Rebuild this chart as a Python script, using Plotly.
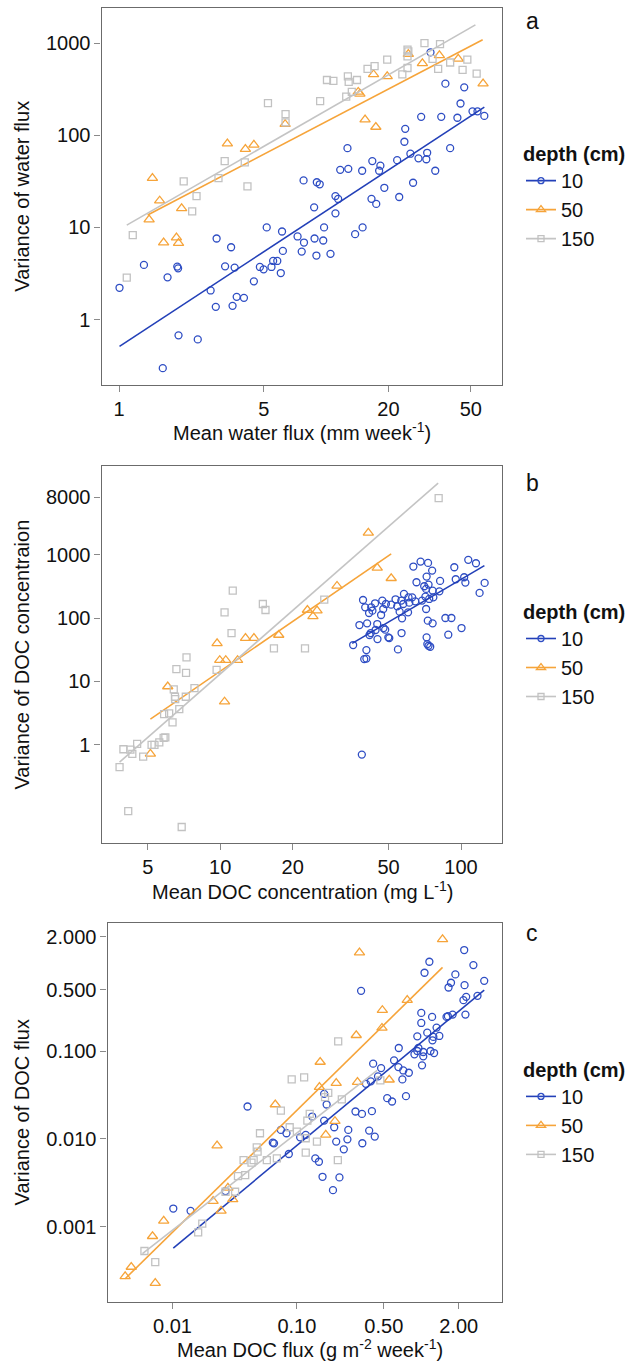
import numpy as np
import plotly.graph_objects as go

# ---------------- data (log10 units) ----------------
# Panel a: mean water flux vs variance of water flux
a10_lx = [1.504,1.576,1.667,1.649,1.707,1.731,1.764,1.459,1.556,1.634,1.382,1.378,1.103,1.599,1.407,1.488,1.484,1.446,
          1.223,1.262,1.256,1.343,1.068,1.107,1.174,1.527,0.891,0.955,0.969,1.281,1.42,1.045,1.219,1.353,
          1.058,1.242,0.942,1.045,0.713,0.787,1.14,1.176,0.99,0.862,0.944,0.986,0.893,0.791,0.882,0.953,1.021,
          0.471,0.541,0.12,0.281,0.285,0.234,0.512,0.558,0.68,0.698,0.736,0.744,0.764,0.781,0.651,0.442,0.568,
          0.603,0.467,0.548,0.002,0.287,0.38,0.211]
a10_ly = [2.90,2.56,2.52,2.345,2.26,2.26,2.21,2.20,2.20,2.19,2.07,1.93,1.86,1.86,1.80,1.81,1.74,1.75,
          1.72,1.67,1.615,1.73,1.625,1.636,1.615,1.615,1.51,1.49,1.468,1.43,1.485,1.34,1.31,1.33,
          1.309,1.255,1.218,1.153,1.0,0.956,0.927,1.0,1.0,0.902,0.88,0.858,0.836,0.745,0.738,0.695,0.713,
          0.88,0.785,0.593,0.575,0.556,0.458,0.578,0.564,0.571,0.545,0.571,0.636,0.636,0.505,0.415,0.316,0.247,
          0.236,0.138,0.149,0.345,-0.171,-0.215,-0.527]
a50_lx = [1.397,1.465,1.547,1.638,1.758,1.229,1.295,1.155,1.163,1.188,1.24,0.802,0.523,0.61,0.651,0.161,0.196,
          0.145,0.302,0.215,0.277,0.287]
a50_ly = [2.88,2.78,2.867,2.83,2.56,2.66,2.64,2.47,2.45,2.17,2.09,2.12,1.91,1.85,1.896,1.536,1.29,
          1.084,1.207,0.836,0.89,0.83]
a150_lx = [1.475,1.55,1.393,1.397,1.393,1.514,1.599,1.682,1.541,1.659,1.727,1.295,1.234,1.393,1.368,1.2,1.105,
           1.109,1.149,1.097,1.124,1.004,1.035,0.971,0.719,0.804,0.804,0.51,0.607,0.62,0.48,0.312,0.374,0.353,
           0.066,0.037]
a150_ly = [3.0,2.99,2.93,2.91,2.856,2.83,2.79,2.82,2.72,2.71,2.67,2.82,2.75,2.73,2.66,2.72,2.64,
           2.58,2.60,2.42,2.47,2.60,2.59,2.37,2.35,2.23,2.14,1.72,1.705,1.446,1.536,1.5,1.34,1.175,
           0.916,0.455]
a_fit_lx = {"10": [0.002, 1.764], "50": [0.138, 1.756], "150": [0.037, 1.721]}
a_fit_ly = {"10": [-0.291, 2.306], "50": [1.135, 3.036], "150": [1.025, 3.198]}

# Panel b: mean DOC concentration vs variance
b10_lx = [2.03,2.062,2.098,2.077,2.013,2.018,1.972,1.978,1.913,1.832,1.802,1.863,1.88,1.815,1.847,1.857,1.865,1.882,
          1.855,1.852,1.868,1.838,1.885,1.91,1.81,1.797,1.763,1.782,1.785,1.752,1.76,1.728,1.735,1.71,1.745,1.78,
          1.855,1.755,1.688,1.677,1.673,1.627,1.643,1.632,1.593,1.602,1.652,1.618,1.668,1.685,1.698,1.578,1.61,
          1.625,1.62,1.645,1.653,1.678,1.702,1.753,1.738,1.552,1.607,1.857,1.86,1.882,1.862,1.935,1.96,1.947,
          2.002,1.865,1.872,1.598,1.607,1.588]
b10_ly = [2.916,2.863,2.553,2.395,2.642,2.558,2.8,2.611,2.584,2.889,2.811,2.868,2.747,2.563,2.5,2.653,2.526,2.432,
          2.458,2.337,2.3,2.274,2.326,2.42,2.263,2.326,2.379,2.326,2.242,2.274,2.221,2.295,2.184,2.21,2.1,2.089,
          2.142,1.995,2.221,2.142,2.274,2.168,2.232,2.116,2.284,2.168,1.905,2.079,2.047,1.816,1.695,1.889,1.916,
          1.763,1.732,1.811,1.668,1.842,1.684,1.763,1.505,1.574,1.495,1.695,1.589,1.916,1.958,2.0,2.0,1.737,
          1.842,1.563,1.547,1.353,1.361,-0.152]
b50_lx = [1.615,1.652,1.71,1.485,1.362,1.402,1.385,1.243,0.987,1.105,1.14,0.998,1.023,1.072,1.018,0.782,0.71]
b50_ly = [3.342,2.789,2.626,2.505,2.126,2.116,2.026,1.732,1.6,1.684,1.684,1.335,1.335,1.335,0.681,0.921,-0.141]
b150_lx = [1.907,1.052,1.018,1.177,1.188,1.047,1.432,1.223,1.352,0.86,0.818,0.858,0.807,0.812,0.813,0.857,0.893,
           0.985,0.83,0.788,0.767,0.802,0.772,0.765,0.747,0.715,0.727,0.655,0.635,0.598,0.627,0.68,0.582,0.618,0.84]
b150_ly = [3.889,2.432,2.089,2.221,2.126,1.763,2.289,1.521,1.521,1.379,1.194,1.136,0.874,0.759,0.723,0.759,0.895,
           1.183,0.565,0.497,0.487,0.356,0.12,0.11,0.042,0.0,0.0,0.016,-0.141,-0.068,-0.073,-0.183,-0.351,-1.042,-1.293]
b_fit_lx = {"10": [1.548, 2.097], "50": [0.71, 1.71], "150": [0.582, 1.905]}
b_fit_ly = {"10": [1.6, 2.826], "50": [0.408, 3.01], "150": [-0.272, 4.126]}

# Panel c: mean DOC flux vs variance
c10_lx = [0.345,0.065,0.419,0.026,0.274,0.239,0.219,0.348,0.506,-0.484,0.339,0.361,0.452,0.355,0.252,0.0,0.203,0.214,
          0.087,0.0,0.123,0.048,0.145,0.097,-0.032,0.09,-0.181,-0.023,-0.032,0.016,0.016,0.074,0.103,-0.055,0.006,
          -0.219,-0.184,-0.145,-0.1,-0.152,-0.387,-0.323,-0.348,-0.406,-0.445,-0.123,-0.274,-0.235,-0.781,-0.761,
          -0.529,-0.477,-0.397,-1.397,-0.877,-0.781,-1.129,-0.587,-0.419,-0.7,-0.374,-0.684,-0.594,-0.623,-0.474,
          -1.084,-1.194,-1.184,-0.974,-0.929,-1.065,-0.852,-0.823,-0.794,-0.658,-0.71,-1.574,-1.855,-1.994]
c10_ly = [0.148,0.015,-0.023,-0.11,-0.129,-0.224,-0.278,-0.251,-0.202,-0.316,-0.422,-0.384,-0.373,-0.586,-0.586,-0.567,
          -0.612,-0.605,-0.612,-0.681,-0.734,-0.791,-0.829,-0.84,-0.833,-0.878,-0.966,-0.966,-1.0,-1.011,-1.061,-1.0,
          -1.023,-1.038,-1.163,-1.106,-1.183,-1.221,-1.247,-1.323,-1.144,-1.194,-1.289,-1.346,-1.373,-1.513,-1.536,
          -1.574,-1.487,-1.608,-1.688,-1.715,-1.684,-1.631,-1.745,-1.791,-1.897,-1.897,-1.905,-1.867,-1.973,-2.03,
          -2.004,-2.118,-2.049,-1.935,-2.042,-2.05,-1.981,-1.954,-2.171,-2.221,-2.259,-2.43,-2.437,-2.582,-2.593,
          -2.817,-2.791]
c50_lx = [0.171,-0.497,-0.113,-0.313,-0.316,-0.523,-0.813,-0.684,-0.513,-0.258,-0.819,-1.174,-0.694,-0.768,-1.642,
          -1.674,-1.516,-1.61,-1.555,-2.071,-2.161,-2.332,-2.381,-2.139]
c50_ly = [0.27,0.118,-0.422,-0.536,-0.738,-0.821,-1.125,-1.365,-1.354,-1.327,-1.411,-1.608,-1.798,-1.954,-2.076,
          -2.707,-2.688,-2.817,-2.555,-2.932,-3.106,-3.456,-3.563,-3.639]
c150_lx = [-0.668,-1.042,-0.942,-0.748,-0.774,-0.639,-0.329,-0.897,-0.916,-1.129,-1.297,-1.058,-1.0,-1.323,-1.316,
           -1.348,-1.365,-1.429,-1.242,-1.161,-1.416,-1.474,-1.497,-1.574,-0.929,-0.839,-0.929,-0.671,-1.761,-1.794,
           -2.226,-2.139]
c150_ly = [-0.89,-1.323,-1.3,-1.475,-1.525,-1.551,-1.335,-1.715,-1.791,-1.677,-1.935,-1.867,-1.916,-2.095,-2.144,
           -2.24,-2.27,-2.24,-2.24,-2.22,-2.411,-2.422,-2.6,-2.6,-2.156,-2.03,-1.992,-2.24,-2.962,-3.061,
           -3.274,-3.4]
c_fit_lx = {"10": [-1.994, 0.506], "50": [-2.381, 0.171], "150": [-2.242, -0.355]}
c_fit_ly = {"10": [-3.24, -0.308], "50": [-3.589, -0.049], "150": [-3.304, -1.22]}

depths = ["10", "50", "150"]

a_xticks = [1, 5, 20, 50]
a_xtext = ["1", "5", "20", "50"]
a_yticks = [1, 10, 100, 1000]
a_ytext = ["1", "10", "100", "1000"]
b_xticks = [5, 10, 20, 50, 100]
b_xtext = ["5", "10", "20", "50", "100"]
b_yticks = [1, 10, 100, 1000, 8000]
b_ytext = ["1", "10", "100", "1000", "8000"]
c_xticks = [0.01, 0.1, 0.5, 2.0]
c_xtext = ["0.01", "0.10", "0.50", "2.00"]
c_yticks = [0.001, 0.01, 0.1, 0.5, 2.0]
c_ytext = ["0.001", "0.010", "0.100", "0.500", "2.000"]

# ---------------- styling ----------------
W, H = 629, 1364
FONT = "Liberation Sans, Arial, sans-serif"
colors = {"10": "#2F4EC4", "50": "#F6A43A", "150": "#C2C2C2"}
line_colors = {"10": "#2340B8", "50": "#F6A43A", "150": "#C4C4C4"}
symbols = {"10": "circle-open", "50": "triangle-up-open", "150": "square-open"}
sizes = {"10": 7, "50": 9, "150": 7}

def px_x(p):
    return p / W

def px_y(p):
    return 1 - p / H

panels = [
    dict(key="a", xa="x", ya="y", leg="legend",
         pts={"10": (a10_lx, a10_ly), "50": (a50_lx, a50_ly), "150": (a150_lx, a150_ly)},
         fx=a_fit_lx, fy=a_fit_ly,
         xdom=[px_x(101.5), px_x(501.5)], ydom=[px_y(385), px_y(8.3)],
         xr=[-0.085, 1.847], yr=[-0.71, 3.378],
         xt=(a_xticks, a_xtext), yt=(a_yticks, a_ytext),
         xtitle="Mean water flux (mm week<sup>-1</sup>)", ytitle="Variance of water flux",
         xtitle_x=302, xtitle_y=432, letter_y=21),
    dict(key="b", xa="x2", ya="y2", leg="legend2",
         pts={"10": (b10_lx, b10_ly), "50": (b50_lx, b50_ly), "150": (b150_lx, b150_ly)},
         fx=b_fit_lx, fy=b_fit_ly,
         xdom=[px_x(101.5), px_x(501.5)], ydom=[px_y(843), px_y(466)],
         xr=[0.507, 2.168], yr=[-1.545, 4.395],
         xt=(b_xticks, b_xtext), yt=(b_yticks, b_ytext),
         xtitle="Mean DOC concentration (mg L<sup>-1</sup>)", ytitle="Variance of DOC concentraion",
         xtitle_x=302, xtitle_y=890, letter_y=483),
    dict(key="c", xa="x3", ya="y3", leg="legend3",
         pts={"10": (c10_lx, c10_ly), "50": (c50_lx, c50_ly), "150": (c150_lx, c150_ly)},
         fx=c_fit_lx, fy=c_fit_ly,
         xdom=[px_x(107.5), px_x(501.5)], ydom=[px_y(1301.5), px_y(923.3)],
         xr=[-2.523, 0.645], yr=[-3.848, 0.452],
         xt=(c_xticks, c_xtext), yt=(c_yticks, c_ytext),
         xtitle="Mean DOC flux (g m<sup>-2</sup> week<sup>-1</sup>)", ytitle="Variance of DOC flux",
         xtitle_x=310, xtitle_y=1348, letter_y=933),
]

fig = go.Figure()
annotations = []
layout = dict(width=W, height=H, autosize=False, margin=dict(l=0, r=0, t=0, b=0),
              paper_bgcolor="white", plot_bgcolor="white",
              font=dict(family=FONT, size=20, color="#111111"), showlegend=True)

for i, p in enumerate(panels):
    for d in depths:
        lx, ly = p["pts"][d]
        fig.add_trace(go.Scatter(
            x=np.power(10.0, lx), y=np.power(10.0, ly), mode="markers",
            xaxis=p["xa"], yaxis=p["ya"], showlegend=False, hoverinfo="skip",
            marker=dict(symbol=symbols[d], size=sizes[d], color=colors[d], line=dict(width=1.3, color=colors[d]))))
        fig.add_trace(go.Scatter(
            x=np.power(10.0, p["fx"][d]), y=np.power(10.0, p["fy"][d]), mode="lines",
            xaxis=p["xa"], yaxis=p["ya"], showlegend=False, hoverinfo="skip",
            line=dict(color=line_colors[d], width=1.6)))
    for d in depths:
        fig.add_trace(go.Scatter(
            x=[None], y=[None], mode="lines+markers", name=d, legend=p["leg"],
            xaxis=p["xa"], yaxis=p["ya"],
            line=dict(color=line_colors[d], width=1.6),
            marker=dict(symbol=symbols[d], size=sizes[d] - 1, color=colors[d], line=dict(width=1.3, color=colors[d]))))
    sfx = "" if i == 0 else str(i + 1)
    axis_common = dict(type="log", showgrid=False, zeroline=False, showline=True, linecolor="#6b6b6b",
                       linewidth=1.2, mirror=True, ticks="outside", ticklen=6, tickwidth=1, tickcolor="#8a8a8a",
                       tickfont=dict(family=FONT, size=20, color="#111111"))
    layout["xaxis" + sfx] = dict(axis_common, domain=p["xdom"], range=p["xr"], anchor="y" + sfx,
                                 tickmode="array", tickvals=p["xt"][0], ticktext=p["xt"][1])
    layout["yaxis" + sfx] = dict(axis_common, domain=p["ydom"], range=p["yr"], anchor="x" + sfx,
                                 tickmode="array", tickvals=p["yt"][0], ticktext=p["yt"][1])
    layout[p["leg"]] = dict(x=px_x(521), xanchor="left", y=sum(p["ydom"]) / 2, yanchor="middle",
                            bgcolor="rgba(0,0,0,0)", font=dict(family=FONT, size=20, color="#111111"),
                            title=dict(text="<b>depth (cm)</b>", font=dict(family=FONT, size=20, color="#111111")),
                            itemwidth=30, tracegroupgap=0)
    annotations.append(dict(text=p["xtitle"], x=px_x(p["xtitle_x"]), y=px_y(p["xtitle_y"]), xref="paper", yref="paper",
                            xanchor="center", yanchor="middle", showarrow=False,
                            font=dict(family=FONT, size=20, color="#111111")))
    ymid = (1 - sum(p["ydom"]) / 2) * H
    annotations.append(dict(text=p["ytitle"], x=px_x(22), y=sum(p["ydom"]) / 2, xref="paper", yref="paper",
                            xanchor="center", yanchor="middle", showarrow=False, textangle=-90,
                            font=dict(family=FONT, size=20, color="#111111")))
    annotations.append(dict(text=p["key"], x=px_x(532), y=px_y(p["letter_y"]), xref="paper", yref="paper",
                            xanchor="center", yanchor="middle", showarrow=False,
                            font=dict(family=FONT, size=23, color="#111111")))

layout["annotations"] = annotations
fig.update_layout(**layout)
fig.write_html("out.html")
